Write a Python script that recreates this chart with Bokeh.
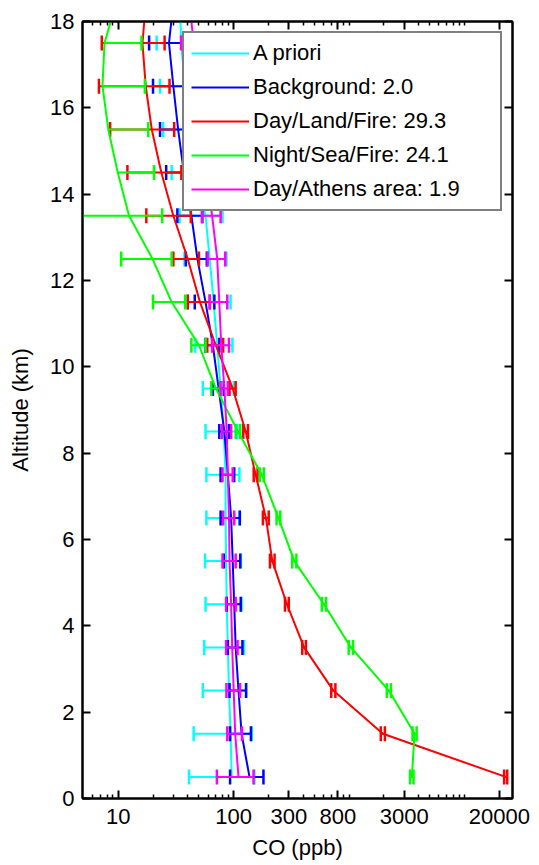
import numpy as np
from bokeh.plotting import figure
from bokeh.models import (Range1d, FixedTicker, LogAxis, LinearAxis, BasicTickFormatter,
                          CustomJSTickFormatter, Legend, LegendItem)
from bokeh.embed import file_html
from bokeh.resources import INLINE

# ---------------- data ----------------
altitude_km = [0.5, 1.5, 2.5, 3.5, 4.5, 5.5, 6.5, 7.5, 8.5, 9.5,
               10.5, 11.5, 12.5, 13.5, 14.5, 15.5, 16.5, 17.5]
top_altitude_km = 18.0

series_labels = ["A priori", "Background: 2.0", "Day/Land/Fire: 29.3",
                 "Night/Sea/Fire: 24.1", "Day/Athens area: 1.9"]

apriori_ppb = [96, 94, 91, 89, 87, 86, 85, 85, 82, 77, 72, 67, 62, 57, 46, 41, 38, 35]
apriori_err = [55, 49, 37, 33.5, 30, 29.5, 27, 27, 25, 23, 25.5, 27, 24.5, 23, 17, 16.5, 15, 13.5]
apriori_top = 34.6

background_ppb = [137, 117, 110, 104, 101, 98, 95, 89, 83, 74, 66, 57, 48.5, 43, 37, 33, 30, 27.5]
background_err = [44, 24, 18, 15, 14, 16, 18, 12, 8, 8, 9, 11, 10, 10.5, 11, 10, 10, 9]
background_top = 28.8

landfire_ppb = [22700, 1960, 730, 407, 289, 216, 190, 155, 127, 98, 70, 51, 40, 30, 23.6, 19.5, 17.3, 16.2]
landfire_err = [700, 80, 30, 15, 11, 10, 11, 6, 6, 6, 11, 11, 10, 12.5, 11.6, 11, 10.5, 9]
landfire_top = 16.8

seafire_ppb = [3490, 3690, 2210, 1035, 605, 335, 244, 175, 109, 70, 50, 29, 19.8, 12.4, 9.9, 8.2, 7.3, 7.6]
seafire_err = [120, 150, 90, 45, 25, 14, 9, 7, 5, 6, 7, 9, 9.2, 11.6, 10.5, 10, 9.7, 8.3]
seafire_top = 8.6

athens_ppb = [110, 103, 100, 97, 95, 92, 91, 89, 87, 83, 78, 75, 72, 65, 58, 52, 48, 45]
athens_err = [38.5, 15, 13.5, 11, 9, 12, 10, 9, 8, 6, 13, 13, 12.5, 12, 12, 11, 11, 10]
athens_top = 43

x_tick_values = [10, 100, 300, 800, 3000, 20000]
x_minor_values = [6, 7, 8, 9, 20, 30, 40, 50, 60, 70, 80, 90,
                  200, 400, 500, 600, 700, 900, 1000,
                  2000, 4000, 5000, 6000, 7000, 8000, 9000, 10000]
y_tick_values = [0, 2, 4, 6, 8, 10, 12, 14, 16, 18]

colors = ["#00FFFF", "#0000FF", "#FF0000", "#00FF00", "#FF00FF"]

series = [
    (apriori_ppb, apriori_err, apriori_top),
    (background_ppb, background_err, background_top),
    (landfire_ppb, landfire_err, landfire_top),
    (seafire_ppb, seafire_err, seafire_top),
    (athens_ppb, athens_err, athens_top),
]

FONT = "Liberation Sans"
FS = "22px"

p = figure(frame_width=430, frame_height=777, x_axis_type="log",
           x_range=Range1d(4.9, 26000), y_range=Range1d(0, 18),
           output_backend="svg", toolbar_location=None,
           min_border_left=82, min_border_right=25, min_border_top=21, min_border_bottom=62,
           background_fill_color="white", border_fill_color="white")
p.xgrid.visible = False
p.ygrid.visible = False
p.outline_line_color = "black"
p.outline_line_width = 2

legend_items = []
alt = np.array(altitude_km)
for (vals, errs, top), col, lab in zip(series, colors, series_labels):
    v = np.array(vals, dtype=float)
    e = np.array(errs, dtype=float)
    lo = v - e
    hi = v + e
    line = p.line(x=list(v) + [top], y=list(alt) + [top_altitude_km],
                  line_color=col, line_width=2)
    legend_items.append(LegendItem(label=lab, renderers=[line]))
    x0 = np.where(lo > 0, lo, v)
    p.segment(x0=x0, y0=alt, x1=hi, y1=alt, line_color=col, line_width=2)
    p.scatter(x=hi, y=alt, marker="dash", angle=np.pi / 2, size=15,
              line_color=col, line_width=2.5)
    ok = lo > 0
    p.scatter(x=lo[ok], y=alt[ok], marker="dash", angle=np.pi / 2, size=15,
              line_color=col, line_width=2.5)

def style_axis(ax):
    ax.axis_line_width = 2
    ax.axis_line_color = "black"
    ax.major_tick_in = 8
    ax.major_tick_out = 0
    ax.minor_tick_in = 4
    ax.minor_tick_out = 0
    ax.major_tick_line_width = 2
    ax.minor_tick_line_width = 1.5
    ax.major_label_text_font = FONT
    ax.major_label_text_font_size = FS
    ax.major_label_text_color = "black"
    ax.axis_label_text_font = FONT
    ax.axis_label_text_font_size = FS
    ax.axis_label_text_font_style = "normal"
    ax.axis_label_text_color = "black"

xax = p.xaxis[0]
xax.ticker = FixedTicker(ticks=x_tick_values, minor_ticks=x_minor_values)
xax.formatter = BasicTickFormatter(use_scientific=False)
xax.axis_label = "CO (ppb)"
style_axis(xax)
xax.major_label_standoff = 10
xax.axis_label_standoff = 8

yax = p.yaxis[0]
yax.ticker = FixedTicker(ticks=y_tick_values, minor_ticks=[])
yax.axis_label = "Altitude (km)"
style_axis(yax)
yax.major_label_standoff = 8
yax.axis_label_standoff = 14

blank = CustomJSTickFormatter(code="return ''")
top_ax = LogAxis(ticker=FixedTicker(ticks=x_tick_values, minor_ticks=x_minor_values), formatter=blank)
style_axis(top_ax)
top_ax.major_label_text_font_size = "0px"
top_ax.major_label_standoff = 0
p.add_layout(top_ax, "above")

right_ax = LinearAxis(ticker=FixedTicker(ticks=y_tick_values, minor_ticks=[]), formatter=blank)
style_axis(right_ax)
right_ax.major_label_text_font_size = "0px"
right_ax.major_label_standoff = 0
p.add_layout(right_ax, "right")

legend = Legend(items=legend_items, location="top_right", margin=10, padding=7,
                spacing=8, glyph_width=58, glyph_height=20, label_height=20,
                label_width=240, label_standoff=4,
                label_text_font=FONT, label_text_font_size=FS, label_text_color="black",
                border_line_color="black", border_line_width=2,
                background_fill_color="white", background_fill_alpha=1.0)
p.add_layout(legend)

open("out.html", "w").write(file_html(p, INLINE))
